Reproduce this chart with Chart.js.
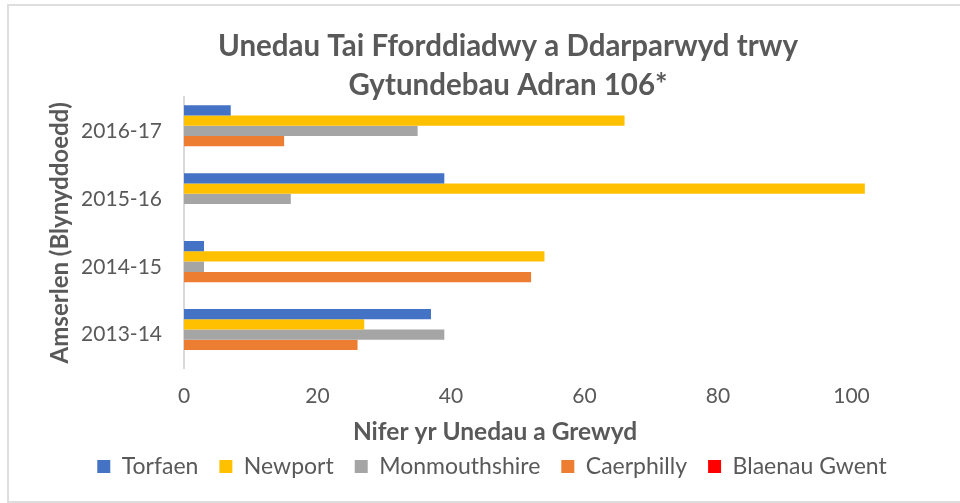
<!DOCTYPE html>
<html>
<head>
<meta charset="utf-8">
<script src="https://cdn.jsdelivr.net/npm/chart.js@4.4.1/dist/chart.umd.min.js"></script>
<style>
    html, body { margin: 0; padding: 0; background: #fff; overflow: hidden; width: 960px; height: 503px; }
    #frame { position: absolute; left: 7px; top: 4px; width: 1002px; height: 499px; box-sizing: border-box; border: 2px solid #dedede; }
    canvas { display: block; }
</style>
</head>
<body>
<div id="frame"><canvas id="chart" width="998" height="495"></canvas></div>
<script>
const YEARS = ['2013-14', '2014-15', '2015-16', '2016-17'];
const TORFAEN = [37, 3, 39, 7];
const NEWPORT = [27, 54, 102, 66];
const MONMOUTHSHIRE = [39, 3, 16, 35];
const CAERPHILLY = [26, 52, 0, 15];
const BLAENAU_GWENT = [0, 0, 0, 0];
const X_MAX = 120;
const X_STEP = 20;

const TITLE = ['Unedau Tai Fforddiadwy a Ddarparwyd trwy', 'Gytundebau Adran 106*'];
const X_TITLE = 'Nifer yr Unedau a Grewyd';
const Y_TITLE = 'Amserlen (Blynyddoedd)';

const TEXT = '#595959';
const FONT = 'Lato, "Open Sans", sans-serif';

Chart.defaults.color = TEXT;
Chart.defaults.font.family = FONT;

const series = (label, data, color) => ({
    label,
    data,
    backgroundColor: color,
    borderWidth: 0,
    categoryPercentage: 0.757,
    barPercentage: 1.0
});

// the original chart is wider than the picture, so title, axis title and
// legend are centred off the canvas middle, each a bit differently
const nudge = {
    id: 'nudge',
    afterLayout(chart) {
        chart.titleBlock.right = chart.width;
        chart.legend.right = chart.width - 32;
        const xTitle = chart.boxes.find(b => b.options && b.options.text === X_TITLE);
        if (xTitle) xTitle.right = chart.width - 26;
    }
};

new Chart(document.getElementById('chart'), {
    type: 'bar',
    data: {
        labels: YEARS,
        datasets: [
            series('Torfaen', TORFAEN, '#4472C4'),
            series('Newport', NEWPORT, '#FFC000'),
            series('Monmouthshire', MONMOUTHSHIRE, '#A5A5A5'),
            series('Caerphilly', CAERPHILLY, '#ED7D31'),
            series('Blaenau Gwent', BLAENAU_GWENT, '#FF0000')
        ]
    },
    options: {
        indexAxis: 'y',
        responsive: false,
        animation: false,
        layout: {padding: {left: 0, right: 0, top: 0, bottom: 13}},
        scales: {
            x: {
                min: 0,
                max: X_MAX,
                ticks: {stepSize: X_STEP, padding: 15, font: {size: 21}, color: TEXT},
                grid: {display: false, drawTicks: false},
                border: {display: false},
                afterFit: (scale) => { scale.paddingRight = 22; scale.height = 49; }
            },
            y: {
                reverse: true,
                ticks: {padding: 22, font: {size: 21}, color: TEXT},
                grid: {display: false, drawTicks: false},
                border: {display: true, color: '#d9d9d9', width: 2},
                title: {
                    display: true,
                    text: Y_TITLE,
                    font: {size: 24, weight: 'bold'},
                    padding: {top: 36.5, bottom: 0},
                    color: TEXT
                },
                afterFit: (scale) => { scale.width = 175; }
            }
        },
        plugins: {
            title: {
                display: true,
                text: TITLE,
                font: {size: 29.5, weight: 'bold', lineHeight: 1.322},
                padding: {top: 20.5, bottom: -7.5},
                color: TEXT
            },
            // x axis title, kept as a box between the axis and the legend
            subtitle: {
                display: true,
                position: 'bottom',
                weight: 500,
                text: X_TITLE,
                font: {size: 24.5, weight: 'bold', lineHeight: 1.2},
                padding: {top: 0, bottom: -13},
                color: TEXT
            },
            legend: {
                position: 'bottom',
                labels: {boxWidth: 13, boxHeight: 13, padding: 21, font: {size: 23}, color: TEXT}
            },
            tooltip: {enabled: false}
        }
    },
    plugins: [nudge]
});
</script>
</body>
</html>
